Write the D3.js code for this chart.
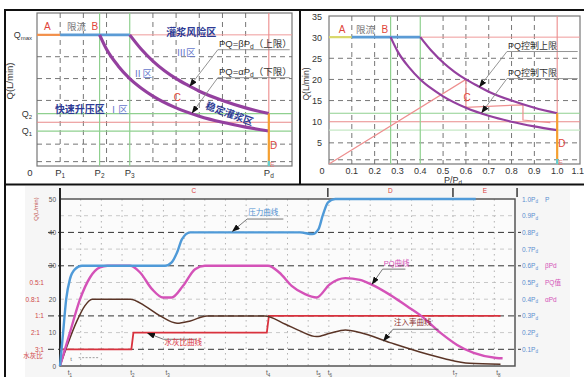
<!DOCTYPE html>
<html>
<head>
<meta charset="utf-8">
<script src="https://cdn.jsdelivr.net/npm/d3@7"></script>
<style>
  body { margin: 0; background: #fff; }
  svg { display: block; font-family: "Liberation Sans", "Noto Sans CJK SC", sans-serif; }
</style>
</head>
<body>
<svg id="chart" width="584" height="377"></svg>
<script>
// ---------- top panels: Q (L/min) against P/Pd
const pTicks = [0, 0.1, 0.2, 0.3, 0.4, 0.5, 0.6, 0.7, 0.8, 0.9, 1.0, 1.1];
const qTicks = [5, 10, 15, 20, 25, 30, 35];
const gridP = [0.1, 0.2, 0.3, 0.5, 0.6, 0.7, 0.8, 0.9];
const gridQ = [1, 5, 15, 20, 25];
const qMax = 30, qHigh = 12, qMid = 10, qLow = 8;
const pStart = 0, pLimit = 0.1, pB = 0.27, pTurn = 0.4, pD = 1.0;
const upperP = [0.4, 0.45, 0.5, 0.55, 0.6, 0.65, 0.7, 0.8, 0.9, 1.0];
const upperQ = [30, 26.7, 24, 21.8, 20, 18.5, 17.1, 15, 13.3, 12];
const lowerP = [0.27, 0.3, 0.35, 0.4, 0.45, 0.5, 0.6, 0.7, 0.8, 0.9, 1.0];
const lowerQ = [30, 26.7, 22.9, 20, 17.8, 16, 13.3, 11.4, 10, 8.9, 8];
const ctrlP = [0, 0.6, 0.6, 0.85, 0.85, 0.97];
const ctrlQ = [0, 20, 13.4, 14, 10.4, 9.8];
const dropQ = [12, 0];
const p1Names = [['P', '1'], ['P', '2'], ['P', '3'], ['P', 'd']];
const p1Pos = [0.1, 0.27, 0.4, 1.0];
const q1Names = [['Q', 'max'], ['Q', '2'], ['Q', '1']];
const q1Pos = [30, 12, 8];

// ---------- bottom panel: grouting process curves
const tMax = 22;
const leftTicks = [0, 10, 20, 30, 40, 50];
const rightTicks = [0.1, 0.2, 0.3, 0.4, 0.5, 0.6, 0.7, 0.8, 0.9, 1.0];
const wcrNames = ['0.5:1', '0.8:1', '1:1', '2:1', '3:1'];
const wcrLevels = [25, 20, 15, 10, 5];
const rightExtra = ['P', 'βPd', 'PQ值', 'αPd'];
const rightExtraAt = [1.0, 0.6, 0.5, 0.4];
const tTicks = [0.48, 3.5, 5.2, 10.06, 12.5, 13.05, 19.1, 21.2];
const stageEdges = [0, 12.95, 19, 22.1];
const stageNames = ['C', 'D', 'E'];
const presT = [0, 0.15, 0.3, 0.48, 0.73, 1.06, 5.08, 5.4, 5.66, 5.9, 6.3, 11.6, 12.2, 12.5, 12.7, 12.96, 13.3, 20.1];
const presQ = [0, 10, 20, 26, 29, 30, 30, 31, 34, 38, 40, 40, 39.5, 41, 45, 49, 50, 50];
const pqT = [0, 0.48, 0.97, 1.45, 1.93, 2.3, 3.4, 3.87, 4.45, 4.98, 5.4, 5.95, 6.53, 7.0, 10.06, 10.6, 11.2, 11.85, 12.4, 13.05, 13.8, 14.5, 15.1, 15.96, 16.8, 17.4, 18.4, 19.2, 20, 21.1, 21.4];
const pqQ = [0, 10, 20, 26.5, 29.5, 30, 30, 28, 23, 20.5, 20.5, 24, 29, 30, 30, 28, 24, 21.5, 20.5, 24.5, 26.3, 25.8, 24.3, 21.3, 17.8, 15.3, 9.9, 6.3, 3.9, 2.4, 2.3];
const injT = [0, 0.34, 0.82, 1.2, 1.55, 3.4, 4.1, 4.84, 5.66, 6.3, 7.1, 9.9, 10.9, 11.6, 12.4, 13.05, 13.8, 14.5, 15.96, 17.4, 18.6, 19.8, 21.3];
const injQ = [0, 6, 13.5, 18, 20, 20, 18, 15, 12.8, 13.5, 15, 15, 12.5, 10.5, 8.8, 9.8, 10.8, 10, 7, 4.2, 2.2, 0.8, 0.5];
const wcrT = [0, 3.45, 3.55, 10.0, 10.1, 21.3];
const wcrQ = [5, 5, 10, 10, 15, 15];

const svg = d3.select('#chart');
const zip = (a, b) => a.map((v, i) => [v, b[i]]);

svg.append('defs').append('marker')
  .attr('id', 'arr').attr('viewBox', '0 -3 8 6')
  .attr('refX', 7).attr('refY', 0)
  .attr('markerWidth', 8).attr('markerHeight', 6)
  .attr('markerUnits', 'userSpaceOnUse')
  .attr('orient', 'auto')
  .append('path').attr('d', 'M0,-3L8,0L0,3Z').attr('fill', '#111');

// text with subscript parts: [[str, isSub], ...]
function rich(g, x, y, parts) {
  const t = g.append('text').attr('x', x).attr('y', y);
  let low = false;
  parts.forEach(([s, isSub]) => {
    const ts = t.append('tspan').text(s);
    if (isSub) {
      ts.attr('font-size', '0.7em');
      if (!low) { ts.attr('dy', 2); low = true; }
    } else if (low) { ts.attr('dy', -2); low = false; }
  });
  return t;
}

function pqPanel(opt) {
  const x = d3.scaleLinear().domain([0, 1.1]).range(opt.xr);
  const y = d3.scaleLinear().domain([0, 35]).range(opt.yr);
  const g = svg.append('g');
  const line = d3.line().x(d => x(d[0])).y(d => y(d[1]));
  const curve = d3.line().x(d => x(d[0])).y(d => y(d[1])).curve(d3.curveMonotoneX);

  g.append('rect').attr('x', x(0)).attr('y', y(35))
    .attr('width', x(1.1) - x(0)).attr('height', y(0) - y(35))
    .attr('fill', '#fff').attr('stroke', '#777').attr('stroke-width', 1.2);

  g.selectAll('.vg').data(gridP).join('line')
    .attr('x1', d => x(d)).attr('x2', d => x(d)).attr('y1', y(35)).attr('y2', y(0))
    .attr('stroke', '#666').attr('stroke-width', 0.9).attr('stroke-dasharray', '5,4');
  g.selectAll('.hg').data(gridQ).join('line')
    .attr('x1', x(0)).attr('x2', x(1.1)).attr('y1', d => y(d)).attr('y2', d => y(d))
    .attr('stroke', '#666').attr('stroke-width', 0.9).attr('stroke-dasharray', '5,4');

  // reference lines
  const hl = (q, c, w, x0) => g.append('line').attr('x1', x(x0)).attr('x2', x(1.1))
    .attr('y1', y(q)).attr('y2', y(q)).attr('stroke', c).attr('stroke-width', w);
  hl(qHigh, '#8fd08f', 1.2, 0);
  hl(qMid, '#e88a8a', 1.1, 0);
  hl(qLow, opt.lowGreen, 1.2, 0);
  hl(qMax, '#ef9a9a', 1, pTurn);
  const vl = (p, c, w) => g.append('line').attr('x1', x(p)).attr('x2', x(p))
    .attr('y1', y(35)).attr('y2', y(0)).attr('stroke', c).attr('stroke-width', w);
  vl(pB, '#8fd08f', 1.2);
  vl(pTurn, '#8fd08f', 1.2);
  vl(pD, '#ec8c8c', 1.1);

  // control path (panel 2 only)
  if (opt.ctrl) {
    g.append('path').datum(zip(ctrlP, ctrlQ)).attr('d', line)
      .attr('fill', 'none').attr('stroke', '#ee8f8f').attr('stroke-width', 1.2);
  }

  // A and limit-flow segments
  g.append('path').datum(zip([pStart, pLimit], [qMax, qMax])).attr('d', line)
    .attr('stroke', opt.aColor).attr('stroke-width', 2.2);
  g.append('path').datum(zip([pLimit, pTurn], [qMax, qMax])).attr('d', line)
    .attr('stroke', '#5b9bd5').attr('stroke-width', 2.6);

  // PQ curves
  [zip(upperP, upperQ), zip(lowerP, lowerQ)].forEach(d => {
    g.append('path').datum(d).attr('d', curve).attr('fill', 'none')
      .attr('stroke', '#94409f').attr('stroke-width', opt.curveW);
  });

  // D drop at Pd and E
  g.append('path').datum(zip([pD, pD], dropQ)).attr('d', line)
    .attr('stroke', '#f5a030').attr('stroke-width', 2.2);
  g.append('path').datum(zip([pD, pD], [1.2, 0])).attr('d', line)
    .attr('stroke', '#5fcfd6').attr('stroke-width', 2.2);

  // letters
  const red = '#e0453a';
  const lab = (p, q, s, c, size, anchor) => g.append('text').attr('x', x(p)).attr('y', y(q))
    .attr('fill', c).attr('font-size', size).attr('text-anchor', anchor || 'middle').text(s);
  lab(opt.aP, 31, 'A', red, 10);
  lab(opt.limP, 31, '限流', '#777', 9.5);
  lab(opt.bP, 31, 'B', red, 10);
  lab(0.605, 14.8, 'C', red, 10);
  lab(1.005, 4, 'D', red, 10, 'start');
  lab(1.005, -0.3, 'E', '#e07070', 7, 'start');

  // leaders to the two curves
  const lead = [[26.6, 0.66, 18.3], [20.2, 0.67, 12.2]];
  lead.forEach(([qy, tp, tq], i) => {
    g.append('path')
      .attr('d', `M${x(1.09)},${y(qy)}L${x(0.78)},${y(qy)}L${x(tp)},${y(tq)}`)
      .attr('fill', 'none').attr('stroke', '#888').attr('stroke-width', 0.9)
      .attr('marker-end', 'url(#arr)');
    const t = rich(g, x(0.785), y(qy) - 3, opt.leadText[i]);
    t.attr('font-size', opt.leadSize).attr('fill', '#333');
  });
  return { g, x, y };
}

// ---------- light backing of the lower figure
svg.append('rect').attr('x', 25).attr('y', 186).attr('width', 545).attr('height', 191).attr('fill', '#f6f6f6');

// ---------- panel 1 (schematic)
const p1 = pqPanel({
  xr: [37, 292], yr: [166, 13], curveW: 3.2, aColor: '#f2904a', lowGreen: '#8fd08f',
  aP: 0.045, limP: 0.17, bP: 0.25, leadSize: 9.5,
  leadText: [[['PQ=βP'], ['d', true], ['（上限）']], [['PQ=αP'], ['d', true], ['（下限）']]]
});
p1.g.selectAll('.xt').data(p1Pos).join('text')
  .attr('x', d => p1.x(d)).attr('y', 176).attr('text-anchor', 'middle')
  .attr('font-size', 9.5).attr('fill', '#333')
  .each(function (d, i) {
    d3.select(this).append('tspan').text(p1Names[i][0]);
    d3.select(this).append('tspan').attr('font-size', 6.5).attr('dy', 2).text(p1Names[i][1]);
  });
p1.g.append('text').attr('x', 30).attr('y', 176).attr('text-anchor', 'middle')
  .attr('font-size', 9.5).attr('fill', '#333').text('0');
p1.g.selectAll('.yt').data(q1Pos).join('text')
  .attr('x', 32).attr('y', d => p1.y(d) + 3).attr('text-anchor', 'end')
  .attr('font-size', 9).attr('fill', '#333')
  .each(function (d, i) {
    d3.select(this).append('tspan').text(q1Names[i][0]);
    d3.select(this).append('tspan').attr('font-size', 6).attr('dy', 2).text(q1Names[i][1]);
  });
p1.g.append('text').attr('transform', 'translate(13,81) rotate(-90)').attr('text-anchor', 'middle')
  .attr('font-size', 9.5).attr('fill', '#333').text('Q(L/min)');

const zoneBlue = '#2d3a94', zoneLight = '#6677cc';
const zl = (p, q, s, c, size, bold) => p1.g.append('text')
  .attr('x', p1.x(p)).attr('y', p1.y(q)).attr('text-anchor', 'middle')
  .attr('font-size', size).attr('font-weight', bold ? 'bold' : 'normal')
  .attr('fill', c).text(s);
zl(0.665, 29.8, '灌浆风险区', zoneBlue, 10, true);
zl(0.643, 25.2, 'Ⅲ区', zoneLight, 9.5);
zl(0.455, 20.4, 'Ⅱ区', zoneLight, 9.5);
zl(0.185, 12.2, '快速升压区', zoneBlue, 10, true);
zl(0.35, 12.2, 'Ⅰ区', zoneLight, 9.5);
p1.g.append('text')
  .attr('transform', `translate(${p1.x(0.825)},${p1.y(11.2)}) rotate(20)`)
  .attr('text-anchor', 'middle').attr('font-size', 10).attr('font-weight', 'bold')
  .attr('fill', zoneBlue).text('稳定灌浆区');

// ---------- panel 2 (numbers)
const p2 = pqPanel({
  xr: [329, 580], yr: [164, 16], curveW: 2.2, aColor: '#d9d86a', lowGreen: '#c6e8c6',
  aP: 0.057, limP: 0.16, bP: 0.245, leadSize: 9, ctrl: true,
  leadText: [[['PQ控制上限']], [['PQ控制下限']]]
});
p2.g.selectAll('.xt').data(pTicks).join('text')
  .attr('x', d => d === 0 ? p2.x(d) - 7 : (d > 1.05 ? 584 : p2.x(d)))
  .attr('y', 174).attr('text-anchor', d => d > 1.05 ? 'end' : 'middle')
  .attr('font-size', 9).attr('fill', '#333').text(d => d === 0 ? '0' : d.toFixed(1));
p2.g.selectAll('.yt').data(qTicks).join('text')
  .attr('x', 322).attr('y', d => p2.y(d) + 3.5).attr('text-anchor', 'end')
  .attr('font-size', 9).attr('fill', '#333').text(d => d);
p2.g.append('text').attr('transform', 'translate(309,84) rotate(-90)').attr('text-anchor', 'middle')
  .attr('font-size', 8.5).attr('fill', '#333').text('Q(L/min)');
rich(p2.g, 453, 183, [['P/P'], ['d', true]]).attr('text-anchor', 'middle').attr('font-size', 9).attr('fill', '#333');

// black borders
const bl = (x1, y1, x2, y2) => svg.append('line').attr('x1', x1).attr('y1', y1).attr('x2', x2).attr('y2', y2)
  .attr('stroke', '#111').attr('stroke-width', 2);
bl(4, 10, 584, 10);
bl(5, 9, 5, 377);
bl(4, 184.5, 584, 184.5);
bl(300, 9, 300, 185);

// ---------- bottom panel
const xT = d3.scaleLinear().domain([0, tMax]).range([60, 515]);
const yL = d3.scaleLinear().domain([0, 50]).range([366, 199]);
const yR = d3.scaleLinear().domain([0, 1]).range([366, 199]);
const b = svg.append('g');
const smooth = d3.line().x(d => xT(d[0])).y(d => yL(d[1])).curve(d3.curveMonotoneX);
const sharp = d3.line().x(d => xT(d[0])).y(d => yL(d[1]));

b.append('rect').attr('x', xT(0)).attr('y', yL(50)).attr('width', xT(tMax) - xT(0))
  .attr('height', yL(0) - yL(50)).attr('fill', '#fbfbfb');

b.selectAll('.vg').data(d3.range(1, tMax)).join('line')
  .attr('x1', d => xT(d)).attr('x2', d => xT(d)).attr('y1', yL(50)).attr('y2', yL(0))
  .attr('stroke', '#aaa').attr('stroke-width', 0.9).attr('stroke-dasharray', '1.5,4');
b.selectAll('.mg').data([45, 35, 25, 20, 10]).join('line')
  .attr('x1', xT(0)).attr('x2', xT(tMax)).attr('y1', d => yL(d)).attr('y2', d => yL(d))
  .attr('stroke', '#bbb').attr('stroke-width', 0.8).attr('stroke-dasharray', '4,4');
b.selectAll('.jg').data([40, 30, 15, 5]).join('line')
  .attr('x1', xT(0) - 12).attr('x2', xT(tMax) + 6).attr('y1', d => yL(d)).attr('y2', d => yL(d))
  .attr('stroke', '#333').attr('stroke-width', 1).attr('stroke-dasharray', '6,4');

b.append('rect').attr('x', xT(0)).attr('y', yL(50)).attr('width', xT(tMax) - xT(0))
  .attr('height', yL(0) - yL(50)).attr('fill', 'none').attr('stroke', '#555').attr('stroke-width', 1.5);
b.append('line').attr('x1', xT(0)).attr('x2', xT(0)).attr('y1', 188).attr('y2', yL(0))
  .attr('stroke', '#222').attr('stroke-width', 2);

// stage markers
b.selectAll('.st').data(stageEdges.slice(1)).join('line')
  .attr('x1', d => xT(d)).attr('x2', d => xT(d)).attr('y1', 188).attr('y2', 197)
  .attr('stroke', '#444').attr('stroke-width', 1.6);
b.selectAll('.sn').data(stageNames).join('text')
  .attr('x', (d, i) => (xT(stageEdges[i]) + xT(stageEdges[i + 1])) / 2).attr('y', 193)
  .attr('text-anchor', 'middle').attr('font-size', 6.5).attr('fill', '#d94040').text(d => d);

// curves
b.append('path').datum(zip(wcrT, wcrQ)).attr('d', sharp).attr('fill', 'none')
  .attr('stroke', '#d9323e').attr('stroke-width', 1.8);
b.append('path').datum(zip(injT, injQ)).attr('d', smooth).attr('fill', 'none')
  .attr('stroke', '#5a3426').attr('stroke-width', 1.5);
b.append('path').datum(zip(pqT, pqQ)).attr('d', smooth).attr('fill', 'none')
  .attr('stroke', '#d452b8').attr('stroke-width', 2.4);
b.append('path').datum(zip(presT, presQ)).attr('d', smooth).attr('fill', 'none')
  .attr('stroke', '#4f9ad8').attr('stroke-width', 2.4);

// axes text
b.selectAll('.lt').data(leftTicks).join('text')
  .attr('x', 56).attr('y', d => yL(d) + 2.5).attr('text-anchor', 'end')
  .attr('font-size', 6.5).attr('fill', '#555').text(d => d);
b.selectAll('.wt').data(wcrLevels).join('text')
  .attr('x', (d, i) => (i === 1 || i === 3) ? 40 : 44).attr('y', d => yL(d) + 2.5).attr('text-anchor', 'end')
  .attr('font-size', 6.5).attr('fill', '#d04848').text((d, i) => wcrNames[i]);
b.append('text').attr('x', 33).attr('y', yL(2.3)).attr('text-anchor', 'middle')
  .attr('font-size', 6.5).attr('fill', '#d04848').text('水灰比');
b.append('text').attr('transform', `translate(38,${yL(47)}) rotate(-90)`).attr('text-anchor', 'middle')
  .attr('font-size', 6).attr('fill', '#c05050').text('Q(L/min)');
b.selectAll('.rt').data(rightTicks).join('text')
  .attr('x', 522).attr('y', d => yR(d) + 2.5).attr('font-size', 6.5).attr('fill', '#5a8fd0')
  .each(function (d) {
    d3.select(this).append('tspan').text(d.toFixed(1) + 'P');
    d3.select(this).append('tspan').attr('font-size', 4.5).attr('dy', 1.5).text('d');
  });
b.selectAll('.re').data(rightExtra).join('text')
  .attr('x', 545).attr('y', (d, i) => yR(rightExtraAt[i]) + 2.5).attr('font-size', 6.5)
  .attr('fill', (d, i) => i === 0 ? '#5a8fd0' : '#d452b8').text(d => d);
b.selectAll('.tt').data(tTicks).join('text')
  .attr('x', d => xT(d)).attr('y', 375).attr('text-anchor', 'middle')
  .attr('font-size', 6.5).attr('fill', '#555')
  .each(function (d, i) {
    d3.select(this).append('tspan').text('t');
    d3.select(this).append('tspan').attr('font-size', 4.5).attr('dy', 1.5).text(i + 1);
  });

// curve leaders
const notes = [
  { s: '压力曲线', c: '#4f8fd0', t: 9.05, q: 45.2, end: 10.8, kq: 44, tip: [8.35, 40.4] },
  { s: 'PQ曲线', c: '#d452b8', t: 15.6, q: 29.8, end: 16.7, kq: 29, tip: [15.1, 24.6] },
  { s: '注入率曲线', c: '#8a2f2f', t: 16.1, q: 12.2, end: 18.3, kq: 11, tip: [15.65, 7.6] },
  { s: '水灰比曲线', c: '#d9323e', t: 5.0, q: 6.4, end: 6.6, kq: 8, tip: [4.25, 9.8] }
];
notes.forEach(n => {
  b.append('path')
    .attr('d', `M${xT(n.end)},${yL(n.kq)}L${xT(n.t)},${yL(n.kq)}L${xT(n.tip[0])},${yL(n.tip[1])}`)
    .attr('fill', 'none').attr('stroke', '#555').attr('stroke-width', 0.8)
    .attr('marker-end', 'url(#arr)');
  b.append('text').attr('x', xT(n.t) + 1).attr('y', yL(n.q)).attr('font-size', 7.5)
    .attr('fill', n.c).text(n.s);
});
// small delay mark near the start
b.append('path').attr('d', `M${xT(0.9)},${yL(2.5)}L${xT(1.9)},${yL(2.5)}`)
  .attr('stroke', '#777').attr('stroke-width', 0.7).attr('stroke-dasharray', '2,1.5');
b.append('text').attr('x', xT(0.5)).attr('y', yL(1.5)).attr('font-size', 6).attr('fill', '#666').text('t');
</script>
</body>
</html>
